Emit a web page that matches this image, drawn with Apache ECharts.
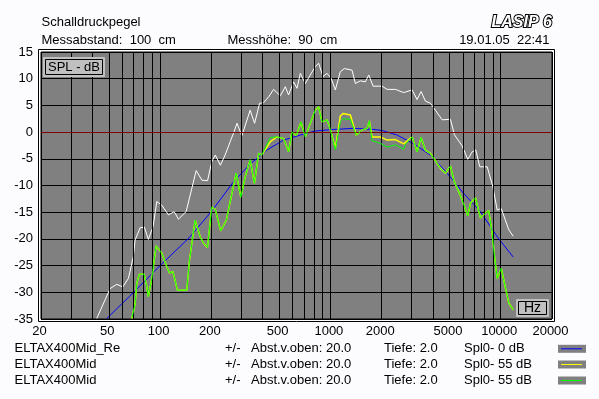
<!DOCTYPE html>
<html><head><meta charset="utf-8">
<script src="https://cdn.jsdelivr.net/npm/echarts@6.0.0/dist/echarts.min.js"></script>
<style>html,body{margin:0;padding:0;background:#fcfbfd;}#c{width:599px;height:399px;}</style>
</head><body><div id="c"></div>
<script>
// ---- data ----
const tickLabels = [20, 50, 100, 200, 500, 1000, 2000, 5000, 10000, 20000];
const gridFreqs = [20,30,40,50,60,70,80,90,100,200,300,400,500,600,700,800,900,1000,2000,3000,4000,5000,6000,7000,8000,9000,10000,20000];
const yTicks = [15,10,5,0,-5,-10,-15,-20,-25,-30,-35];

const whiteCurve = [[42.5,-34.9],[50.9,-29.3],[55.7,-28.5],[60.4,-29.0],[65.2,-27.4],[69.7,-23.3],[71.4,-20.2],[76.4,-17.9],[80.9,-17.8],[85.4,-20.1],[91,-17.7],[95.7,-13.0],[102.4,-13.7],[112,-15.5],[121,-14.9],[128.2,-16.3],[142.2,-14.9],[153.8,-10.5],[163,-7.2],[176,-9.0],[190,-9.1],[201.5,-5.5],[210.8,-4.3],[226,-6.2],[241,-4.3],[258,-1.8],[270,-0.2],[283,1.65],[302,-0.7],[338,4.1],[359,1.65],[384,5.4],[405,5.5],[434,6.6],[464,8.0],[508,6.8],[544,8.5],[568,6.95],[608,9.4],[637,8.2],[666,11.0],[712,9.1],[762,10.7],[815,12.25],[853,12.9],[905,10.4],[955,11.0],[1009,10.1],[1069,7.9],[1143,11.3],[1208,11.9],[1340,11.6],[1402,9.1],[1500,9.6],[1604,9.4],[1679,10.7],[1781,8.6],[2011,8.6],[2153,8.0],[2408,8.0],[2694,7.4],[3018,7.9],[3228,6.1],[3408,7.6],[3614,5.8],[3867,5.4],[4137,4.1],[4529,2.3],[5068,2.4],[5348,-0.5],[5939,-2.6],[6405,-5.1],[6800,-3.7],[7139,-3.35],[7534,-6.5],[8328,-6.5],[8510,-6.2],[8984,-10.2],[9536,-14.6],[10066,-14.3],[11154,-18.3],[11838,-19.5]];

const blueCurve = [[48.7,-34.9],[66,-30.8],[100,-25.0],[148,-19.8],[201,-14.8],[270,-9.3],[338,-6.0],[424,-3.35],[531,-1.5],[666,-0.55],[815,0.2],[1045,0.5],[1370,0.7],[1795,0.5],[2011,0.3],[2464,-0.55],[3084,-2.2],[3867,-4.3],[4848,-7.7],[6067,-11.5],[7606,-14.9],[9536,-19.6],[11838,-23.4]];

const yellowCurve = [[68.3,-34.9],[71.4,-32.1],[73,-28.3],[75.6,-26.6],[80.6,-26.6],[83.6,-29.0],[85.4,-30.8],[89.5,-27.4],[94.8,-21.3],[102.4,-22.7],[109.6,-25.2],[113.6,-26.4],[118.9,-26.1],[126.5,-29.6],[143.6,-29.6],[148.8,-24.0],[160.7,-16.5],[172,-19.6],[179.8,-20.8],[189.8,-21.6],[201.5,-14.0],[211,-14.5],[227,-18.5],[245,-16.5],[264,-11.5],[280,-7.7],[298,-12.2],[316,-8.4],[338,-5.2],[358,-9.6],[379,-4.0],[396,-4.3],[444,-1.8],[486,-0.9],[531,-1.2],[568,-3.7],[595,0.0],[631,-0.6],[672,1.9],[712,-0.9],[762,1.6],[815,4.1],[853,4.75],[893,1.9],[955,2.3],[989,1.0],[1069,-3.0],[1144,3.0],[1186,3.5],[1310,3.2],[1420,-0.6],[1534,0.4],[1642,0.7],[1694,2.1],[1757,-0.9],[1965,-0.9],[2152,-1.5],[2408,-1.4],[2694,-2.2],[2757,-2.3],[3018,-0.9],[3228,-3.7],[3408,-1.0],[3614,-3.4],[3867,-4.0],[4043,-4.9],[4426,-6.8],[4737,-7.7],[5068,-6.35],[5300,-9.0],[5672,-11.2],[5939,-12.7],[6405,-15.7],[6644,-13.3],[7110,-12.3],[7606,-16.1],[8138,-15.2],[8510,-14.7],[8911,-19.0],[9193,-23.3],[9536,-27.4],[10066,-25.5],[10666,-29.2],[11154,-32.0],[11838,-33.3]];

const greenCurve = [[68.3,-34.9],[71.4,-32.1],[73,-28.3],[75.6,-26.6],[80.6,-26.6],[83.6,-29.0],[85.4,-30.8],[89.5,-27.4],[94.8,-21.3],[102.4,-22.7],[109.6,-25.2],[113.6,-26.4],[118.9,-26.1],[126.5,-29.6],[143.6,-29.6],[148.8,-24.0],[160.7,-16.5],[172,-19.6],[179.8,-20.8],[189.8,-21.6],[201.5,-14.0],[211,-14.5],[227,-18.5],[245,-16.5],[264,-11.5],[280,-7.7],[298,-12.2],[316,-8.4],[338,-5.2],[358,-9.6],[379,-4.0],[396,-4.3],[444,-1.0],[486,-0.9],[531,-1.2],[568,-3.7],[595,0.0],[631,-0.6],[672,1.9],[712,-0.9],[762,1.6],[815,4.1],[853,4.75],[893,1.9],[955,2.3],[989,1.0],[1069,-3.3],[1144,2.0],[1186,2.5],[1310,2.4],[1420,-0.6],[1534,0.4],[1642,0.7],[1694,2.1],[1757,-1.6],[1965,-2.1],[2152,-2.8],[2408,-2.4],[2694,-3.2],[2757,-2.3],[3018,-0.9],[3228,-3.7],[3408,-1.0],[3614,-3.4],[3867,-4.0],[4043,-4.9],[4426,-6.8],[4737,-7.7],[5068,-6.35],[5300,-9.0],[5672,-11.2],[5939,-12.7],[6405,-15.7],[6644,-13.3],[7110,-12.3],[7606,-16.1],[8138,-15.2],[8510,-14.7],[8911,-19.0],[9193,-23.3],[9536,-27.4],[10066,-25.5],[10666,-29.2],[11154,-32.0],[11838,-33.3]];

const legendNames = ['ELTAX400Mid_Re', 'ELTAX400Mid', 'ELTAX400Mid'];
const legendAbst = ['Abst.v.oben: 20.0', 'Abst.v.oben: 20.0', 'Abst.v.oben: 20.0'];
const legendTiefe = ['Tiefe: 2.0', 'Tiefe: 2.0', 'Tiefe: 2.0'];
const legendSpl = ['Spl0- 0 dB', 'Spl0- 55 dB', 'Spl0- 55 dB'];
const legendColors = ['#0000ff', '#ffff00', '#00ff00'];

// ---- chart ----
const FONT = '"Liberation Sans", Arial, sans-serif';
const chart = echarts.init(document.getElementById('c'), null, {renderer: 'canvas'});

const gridLineData = gridFreqs.map(f => ({
  xAxis: f,
  label: tickLabels.includes(f) ? {show: true, formatter: String(f)} : {show: false}
}));

const txt = (x, y, s, extra) => Object.assign({
  type: 'text', x: x, y: y, silent: true,
  style: Object.assign({text: s, fill: '#000', font: '13px ' + FONT, textAlign: 'left', textVerticalAlign: 'middle'}, (extra || {}))
});

const graphics = [
  {type: 'rect', z: -100, shape: {x: 38.5, y: 49.5, width: 516, height: 272}, style: {fill: '#ffffff', stroke: '#000', lineWidth: 1}, silent: true},
  txt(41.5, 22.3, 'Schalldruckpegel'),
  txt(41.5, 40.5, 'Messabstand:  100  cm'),
  txt(227.5, 40.5, 'Messhöhe:  90  cm'),
  txt(549.5, 40.5, '19.01.05  22:41', {textAlign: 'right'}),
  {type: 'text', x: 552, y: 22.5, z: 10, silent: true,
   style: {text: 'LASIP 6', font: 'italic bold 16px ' + FONT, fill: '#ffffff', stroke: '#000', lineWidth: 2, textAlign: 'right', textVerticalAlign: 'middle'}},
  {type: 'rect', z: 50, shape: {x: 43.5, y: 57.5, width: 61, height: 19}, style: {fill: '#c0c0c0', stroke: '#c0c0c0', lineWidth: 1}, silent: true},
  {type: 'rect', z: 51, shape: {x: 45.5, y: 59.5, width: 57, height: 15}, style: {fill: '#c0c0c0', stroke: '#000', lineWidth: 1}, silent: true},
  {type: 'text', z: 52, x: 74, y: 67.5, silent: true, style: {text: 'SPL - dB', font: '13px ' + FONT, fill: '#000', textAlign: 'center', textVerticalAlign: 'middle'}},
  {type: 'rect', z: 50, shape: {x: 516.5, y: 299.5, width: 32, height: 17}, style: {fill: '#c0c0c0', stroke: '#c0c0c0', lineWidth: 1}, silent: true},
  {type: 'rect', z: 51, shape: {x: 518.5, y: 301.5, width: 28, height: 13}, style: {fill: '#c0c0c0', stroke: '#000', lineWidth: 1}, silent: true},
  {type: 'text', z: 52, x: 532.5, y: 308.5, silent: true, style: {text: 'Hz', font: '14px ' + FONT, fill: '#000', textAlign: 'center', textVerticalAlign: 'middle'}}
];

const rowY = [348.3, 364, 380];
legendNames.forEach((n, i) => {
  const y = rowY[i];
  graphics.push(txt(14.5, y, n));
  graphics.push(txt(225, y, '+/-'));
  graphics.push(txt(251, y, legendAbst[i]));
  graphics.push(txt(384, y, legendTiefe[i]));
  graphics.push(txt(464, y, legendSpl[i]));
  graphics.push({type: 'rect', silent: true, shape: {x: 558, y: y - 3.5, width: 28, height: 8}, style: {fill: '#808080'}});
  graphics.push({type: 'line', silent: true, shape: {x1: 561, y1: y + 0.5, x2: 582, y2: y + 0.5}, style: {stroke: legendColors[i], lineWidth: 1}});
});

const lineSeries = (name, data, color, width, z) => ({
  name: name, type: 'line', data: data, symbol: 'none', z: z,
  lineStyle: {color: color, width: width}, silent: true, animation: false, clip: true
});

chart.setOption({
  animation: false,
  backgroundColor: '#fcfbfd',
  textStyle: {fontFamily: FONT},
  grid: {left: 41, top: 52, width: 511, height: 267, show: true, backgroundColor: '#808080', borderColor: '#000', borderWidth: 1, containLabel: false},
  xAxis: {
    type: 'log', logBase: 10, min: 20, max: 20000,
    axisLine: {show: false}, axisTick: {show: false}, axisLabel: {show: false}, splitLine: {show: false}, minorSplitLine: {show: false}
  },
  yAxis: {
    type: 'value', min: -35, max: 15, interval: 5,
    axisLine: {show: false}, axisTick: {show: false},
    axisLabel: {color: '#000', fontSize: 13, fontFamily: FONT, margin: 8},
    splitLine: {show: true, lineStyle: {color: '#000', width: 1}}
  },
  graphic: graphics,
  series: [
    {
      type: 'line', data: [], silent: true, z: 1,
      markLine: {
        silent: true, symbol: ['none', 'none'], animation: false,
        lineStyle: {color: '#000', width: 1, type: 'solid'},
        label: {position: 'start', distance: 6, color: '#000', fontSize: 13, fontFamily: FONT, offset: [-1.5, 0]},
        data: gridLineData.concat([{yAxis: 0, label: {show: false}, lineStyle: {color: '#800000', width: 1, type: 'solid'}}])
      }
    },
    lineSeries('white', whiteCurve, '#ffffff', 1, 2),
    lineSeries('blue', blueCurve, '#0000ff', 1, 3),
    lineSeries('yellow', yellowCurve, '#ffff00', 1.5, 4),
    lineSeries('green', greenCurve, '#00ff00', 1, 5)
  ]
});
</script></body></html>
